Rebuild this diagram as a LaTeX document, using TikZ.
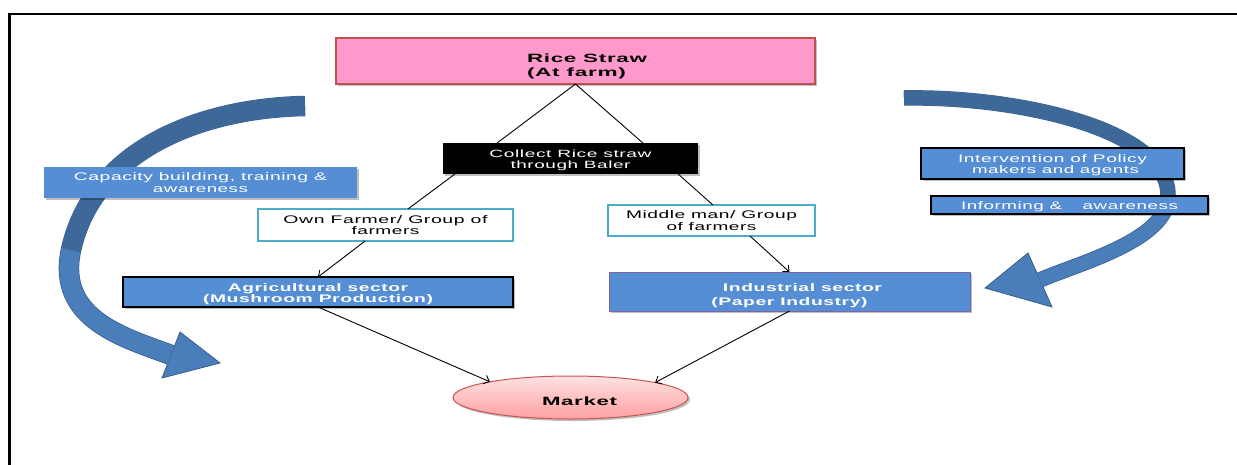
\documentclass[tikz,border=0pt]{standalone}
\usepackage{fontspec}
\setmainfont{Liberation Sans}[LetterSpace=3]
\usetikzlibrary{arrows.meta,shapes.geometric,shadows,calc}
\definecolor{boxblue}{RGB}{85,142,213}
\definecolor{arrdark}{RGB}{62,104,152}
\definecolor{arrlight}{RGB}{74,126,187}
\definecolor{arrline}{RGB}{56,93,138}
\definecolor{ricepink}{RGB}{255,153,204}
\definecolor{riceborder}{RGB}{192,80,77}
\definecolor{tealborder}{RGB}{75,172,198}
\definecolor{indborder}{RGB}{128,100,162}
\definecolor{mkttop}{RGB}{255,226,226}
\definecolor{mktbot}{RGB}{255,160,160}
\definecolor{mktborder}{RGB}{200,85,82}
\newcommand{\fitline}[2]{\smash{\resizebox{#1pt}{\height}{#2}}}
\newcommand{\lowerby}[2]{\raisebox{-#1pt}[\height][\depth]{#2}}
\begin{document}
\begin{tikzpicture}[x=1pt,y=-1pt,
  box/.style={rectangle, inner sep=0pt, outer sep=0pt},
  blubox/.style={box, fill=boxblue, text=white},
  shadowed/.style={drop shadow={shadow xshift=2pt,shadow yshift=-2pt,opacity=0.25,fill=black}},
  conn/.style={line width=0.9pt, black},
  arr/.style={conn, -{Straight Barb[length=5pt,width=9pt]}},
  headfill/.style={fill=arrlight, draw=arrline, line width=0.8pt, line join=miter}
]
\useasboundingbox (0,0) rectangle (1237,464);
\clip (0,0) rectangle (1237,464);
% frame
\draw[line width=2.6pt] (9.5,480) -- (9.5,13.8) -- (1260,13.8);

% left curved arrow
\filldraw[headfill] (180,332) -- (220,363) -- (162,378) -- cycle;
\draw[arrline, line width=20.5pt] (305,106) .. controls (200,108) and (93,150) .. (71,250) .. controls (56,320) and (126,338) .. (171,355);
\draw[arrlight, line width=19pt] (305,106) .. controls (200,108) and (93,150) .. (71,250) .. controls (56,320) and (126,338) .. (171,355);
\draw[arrdark, line width=19pt] (305,106) .. controls (200,108) and (93,150) .. (71,250);

% right curved arrow
\filldraw[headfill] (1028,253) -- (985,288) -- (1052,307) -- cycle;
\draw[arrline, line width=15.5pt] (904,98) .. controls (1020,96) and (1168,130) .. (1168,195) .. controls (1170,240) and (1076,264) .. (1040,280);
\draw[arrlight, line width=14pt] (904,98) .. controls (1020,96) and (1168,130) .. (1168,195) .. controls (1170,240) and (1076,264) .. (1040,280);
\draw[arrdark, line width=14pt] (904,98) .. controls (1020,96) and (1168,130) .. (1168,195);

% boxes
\node[box, shadowed, fill=ricepink, draw=riceborder, line width=1.5pt, minimum width=479, minimum height=46,
  font=\bfseries\fontsize{12}{13.8}\selectfont] (rice) at (575.5,61)
  {\hspace*{23pt}\lowerby{5.8}{\begin{tabular}{@{}l@{}}\fitline{120}{Rice Straw}\\ \fitline{99}{(At farm)}\end{tabular}}};

\node[box, shadowed, fill=black, text=white, minimum width=255, minimum height=31,
  font=\fontsize{10.5}{11}\selectfont] (collect) at (570.5,158.5)
  {\lowerby{1.8}{\begin{tabular}{@{}c@{}}\fitline{162}{Collect Rice straw}\\ \fitline{120}{through Baler}\end{tabular}}};

\node[blubox, shadowed, minimum width=313, minimum height=31,
  font=\fontsize{11}{11.6}\selectfont] (cap) at (200.5,182.5)
  {\lowerby{1.7}{\begin{tabular}{@{}c@{}}\fitline{253}{Capacity building, training \&}\\ \fitline{95}{awareness}\end{tabular}}};

\node[box, fill=white, draw=tealborder, line width=2pt, minimum width=255, minimum height=32,
  font=\fontsize{11}{11}\selectfont] (own) at (385.5,225)
  {\lowerby{1.3}{\begin{tabular}{@{}c@{}}\fitline{204}{Own Farmer/ Group of}\\ \fitline{68}{farmers}\end{tabular}}};

\node[box, fill=white, draw=tealborder, line width=2pt, minimum width=207, minimum height=31,
  font=\fontsize{11}{12}\selectfont] (middle) at (711.5,220.5)
  {\lowerby{1.1}{\begin{tabular}{@{}c@{}}\fitline{171}{Middle man/ Group}\\ \fitline{90}{of farmers}\end{tabular}}};

\node[blubox, shadowed, draw=black, line width=1.2pt, minimum width=390, minimum height=30,
  font=\bfseries\fontsize{11}{11}\selectfont] (agri) at (318,292)
  {\lowerby{2.3}{\begin{tabular}{@{}c@{}}\fitline{180}{Agricultural sector}\\ \fitline{230}{(Mushroom Production)}\end{tabular}}};

\node[blubox, shadowed, draw=indborder, line width=1pt, minimum width=361, minimum height=39,
  font=\bfseries\fontsize{11}{13.3}\selectfont] (ind) at (789.5,291.5)
  {\lowerby{4.2}{\begin{tabular}{@{}c@{}}\hspace*{26pt}\fitline{159}{Industrial sector}\\ \fitline{156}{(Paper Industry)}\end{tabular}}};

\node[blubox, shadowed, draw=black, line width=1.2pt, minimum width=263, minimum height=31,
  font=\fontsize{11}{11}\selectfont] (policy) at (1052.5,163.5)
  {\lowerby{1.8}{\begin{tabular}{@{}c@{}}\fitline{189}{Intervention of Policy}\\ \hspace*{6pt}\fitline{167}{makers and agents}\end{tabular}}};

\node[blubox, shadowed, draw=black, line width=1.2pt, minimum width=277, minimum height=18,
  font=\fontsize{11}{11}\selectfont] (inform) at (1069.5,205)
  {\lowerby{1.8}{\begin{tabular}{@{}c@{}}\fitline{217}{Informing \&\hspace{1.1em}awareness}\end{tabular}}};

\node[ellipse, shadowed, inner sep=0pt, outer sep=0pt, draw=mktborder, line width=1pt,
  top color=mkttop, bottom color=mktbot, minimum width=235, minimum height=43,
  font=\bfseries\fontsize{12}{12}\selectfont] (market) at (570.5,397.5)
  {\lowerby{5.1}{\begin{tabular}{@{}c@{}}\hspace*{18pt}\fitline{75}{Market}\end{tabular}}};

% connectors
\draw[conn] (rice.south) -- ($(collect.north west)!0.212!(collect.north east)$);
\draw[conn] (rice.south) -- ($(collect.north west)!0.784!(collect.north east)$);
\draw[conn] ($(collect.south west)!0.047!(collect.south east)$) -- ($(own.north west)!0.588!(own.north east)$);
\draw[conn] ($(collect.south west)!0.922!(collect.south east)$) -- ($(middle.north west)!0.507!(middle.north east)$);
\draw[arr] ($(own.south west)!0.42!(own.south east)$) -- (agri.north);
\draw[arr] ($(middle.south west)!0.686!(middle.south east)$) -- (ind.north);
\draw[arr] (agri.south) -- (market.169.5);
\draw[arr] (ind.south) -- (market.10.4);
\end{tikzpicture}
\end{document}
